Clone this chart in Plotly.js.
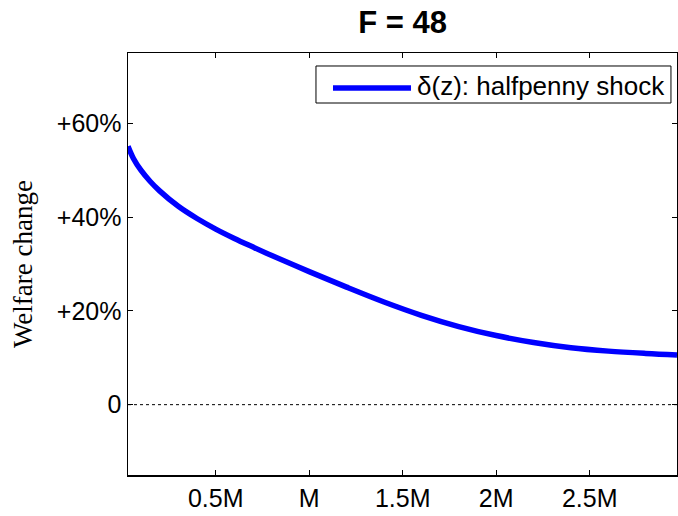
<!DOCTYPE html>
<html>
<head>
<meta charset="utf-8">
<script src="https://cdn.plot.ly/plotly-3.0.1.min.js"></script>
<style>html,body{margin:0;padding:0;background:#fff;}#chart{width:678px;height:516px;}</style>
</head>
<body>
<div id="chart"></div>
<script>
// population z (millions) and welfare change delta(z) (fraction)
const zMillions = [0.031, 0.06, 0.1, 0.15, 0.2, 0.3, 0.4, 0.5, 0.6, 0.7, 0.8, 1.0, 1.2, 1.4, 1.6, 1.8, 2.0, 2.2, 2.4, 2.6, 2.8, 2.967];
const delta = [0.551, 0.525, 0.5, 0.476, 0.456, 0.423, 0.397, 0.3745, 0.3545, 0.336, 0.318, 0.2838, 0.2506, 0.219, 0.1906, 0.1666, 0.1474, 0.1326, 0.1214, 0.1142, 0.1092, 0.1059];
const xTickVals = [500000, 1000000, 1500000, 2000000, 2500000];
const xTickText = ["0.5M", "M", "1.5M", "2M", "2.5M"];
const yTickVals = [0, 0.2, 0.4, 0.6];
const yTickText = ["0", "+20%", "+40%", "+60%"];
const seriesName = "δ(z): halfpenny shock";
const titleText = "F = 48";
const yTitle = "Welfare change";

const x = zMillions.map(v => v * 1e6);

const trace = {
  x: x, y: delta, type: "scatter", mode: "lines", name: seriesName, showlegend: false,
  line: {color: "#0000ff", width: 5.5, shape: "spline", smoothing: 1}
};

const sans = "Liberation Sans, Arial, sans-serif";
const axisFont = {family: sans, size: 25, color: "#000"};

const layout = {
  width: 678, height: 516,
  margin: {l: 128, r: 1, t: 53, b: 41},
  paper_bgcolor: "#fff", plot_bgcolor: "#fff",
  title: {text: "<b>" + titleText + "</b>", font: {family: sans, size: 31, color: "#000"}, xref: "paper", x: 0.5, xanchor: "center", yref: "container", y: 0.957, yanchor: "middle"},
  xaxis: {
    range: [31000, 2967000], tickvals: xTickVals, ticktext: xTickText,
    ticks: "inside", ticklen: 5, tickwidth: 1, tickcolor: "#000",
    showline: true, linecolor: "#000", linewidth: 1.5, mirror: "ticks",
    showgrid: false, zeroline: false, tickfont: axisFont
  },
  yaxis: {
    range: [-0.15, 0.75], tickvals: yTickVals, ticktext: yTickText,
    ticks: "inside", ticklen: 5, tickwidth: 1, tickcolor: "#000",
    showline: true, linecolor: "#000", linewidth: 1.5, mirror: "ticks",
    showgrid: false, zeroline: false, tickfont: axisFont,
    title: {text: yTitle, font: {family: "Liberation Serif, Times New Roman, serif", size: 27, color: "#000"}, standoff: 16}
  },
  shapes: [
    {type: "line", xref: "paper", x0: 0, x1: 1, yref: "y", y0: 0, y1: 0, line: {color: "#000", width: 1, dash: "dot"}},
    {type: "rect", xref: "paper", yref: "paper", x0: 0.3424, x1: 0.989, y0: 0.8815, y1: 0.9692, fillcolor: "#fff", line: {color: "#000", width: 1}},
    {type: "line", xref: "paper", yref: "paper", x0: 0.3734, x1: 0.5155, y0: 0.917, y1: 0.917, line: {color: "#0000ff", width: 5.5}}
  ],
  annotations: [
    {xref: "paper", yref: "paper", x: 0.522, y: 0.921, xanchor: "left", yanchor: "middle", text: seriesName, showarrow: false, font: {family: sans, size: 26, color: "#000"}}
  ],
  showlegend: false
};

Plotly.newPlot("chart", [trace], layout, {displayModeBar: false, staticPlot: true});
</script>
</body>
</html>
